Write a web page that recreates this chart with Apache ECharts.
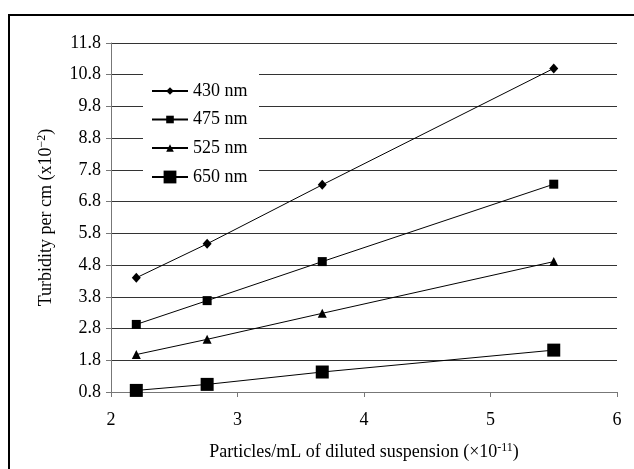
<!DOCTYPE html>
<html>
<head>
<meta charset="utf-8">
<script src="https://cdn.jsdelivr.net/npm/echarts@6/dist/echarts.min.js"></script>
<style>
html,body{margin:0;padding:0;background:#fff;}
#chart{width:634px;height:469px;}
</style>
</head>
<body>
<div id="chart"></div>
<script>
// particle concentration (x10^-11) and turbidity per cm (x10^-2)
var particles = [2.2, 2.76, 3.67, 5.5];
var seriesNames = ['430 nm', '475 nm', '525 nm', '650 nm'];
var t430 = [4.4, 5.47, 7.33, 11.0];
var t475 = [2.93, 3.68, 4.91, 7.35];
var t525 = [1.98, 2.46, 3.28, 4.91];
var t650 = [0.85, 1.04, 1.43, 2.12];

var font = 'Liberation Serif';
var fs = 18;

function pairs(ys){
	var out = [];
	for (var i = 0; i < particles.length; i++) out.push([particles[i], ys[i]]);
	return out;
}

function mkSeries(name, ys, symbol, size){
	return {
		name: name,
		type: 'line',
		data: pairs(ys),
		symbol: symbol,
		symbolSize: size,
		showAllSymbol: true,
		lineStyle: {color: '#000', width: 1},
		itemStyle: {color: '#000'},
		emphasis: {disabled: true}
	};
}

// one legend per entry so the big square can get its own size
function mkLegend(name, top, h){
	return {
		data: [name],
		left: 151,
		top: top,
		padding: 0,
		itemWidth: 36,
		itemHeight: h,
		itemGap: 0,
		selectedMode: false,
		textStyle: {color: '#000', fontFamily: font, fontSize: fs}
	};
}

var supStyle = {fontSize: 12, verticalAlign: 'top', padding: [0, 0, 9, 0], fontFamily: font, color: '#000'};

var chart = echarts.init(document.getElementById('chart'), null, {renderer: 'canvas'});
var option = {
	animation: false,
	backgroundColor: '#fff',
	textStyle: {fontFamily: font},
	grid: {left: 111, right: 17, top: 43, bottom: 77},
	graphic: {elements: [
		{type: 'line', z: 10, shape: {x1: 8, y1: 15, x2: 634, y2: 15}, style: {stroke: '#000', lineWidth: 2}},
		{type: 'line', z: 10, shape: {x1: 9, y1: 14, x2: 9, y2: 469}, style: {stroke: '#000', lineWidth: 2}},
		{type: 'rect', z: 1, shape: {x: 143, y: 73, width: 116, height: 120}, style: {fill: '#fff'}}
	]},
	legend: [
		mkLegend(seriesNames[0], 82, 9.5),
		mkLegend(seriesNames[1], 110.5, 9.5),
		mkLegend(seriesNames[2], 139, 9.5),
		mkLegend(seriesNames[3], 168, 16)
	],
	xAxis: {
		type: 'value',
		min: 2, max: 6, interval: 1,
		name: 'Particles/mL of diluted suspension (\u00d710{sup|-11})',
		nameLocation: 'middle',
		nameGap: 50,
		nameTextStyle: {color: '#000', fontFamily: font, fontSize: fs, rich: {sup: supStyle}},
		axisLine: {show: true, lineStyle: {color: '#777', width: 1}},
		axisTick: {show: true, length: 5, lineStyle: {color: '#777'}},
		axisLabel: {color: '#000', fontSize: fs, fontFamily: font, margin: 19},
		splitLine: {show: false}
	},
	yAxis: {
		type: 'value',
		min: 0.8, max: 11.8, interval: 1,
		name: 'Turbidity per cm (x10{sup|\u22122})',
		nameLocation: 'middle',
		nameGap: 54,
		nameTextStyle: {color: '#000', fontFamily: font, fontSize: fs, rich: {sup: supStyle}},
		axisLine: {show: true, lineStyle: {color: '#777', width: 1}},
		axisTick: {show: true, length: 5, lineStyle: {color: '#777'}},
		axisLabel: {color: '#000', fontSize: fs, fontFamily: font, margin: 10,
			formatter: function(v){ return v.toFixed(1); }},
		splitLine: {show: true, lineStyle: {color: '#333', width: 1}}
	},
	series: [
		mkSeries(seriesNames[0], t430, 'diamond', [9, 10]),
		mkSeries(seriesNames[1], t475, 'rect', 9),
		mkSeries(seriesNames[2], t525, 'triangle', 9),
		mkSeries(seriesNames[3], t650, 'rect', 13)
	]
};
chart.setOption(option);
</script>
</body>
</html>
